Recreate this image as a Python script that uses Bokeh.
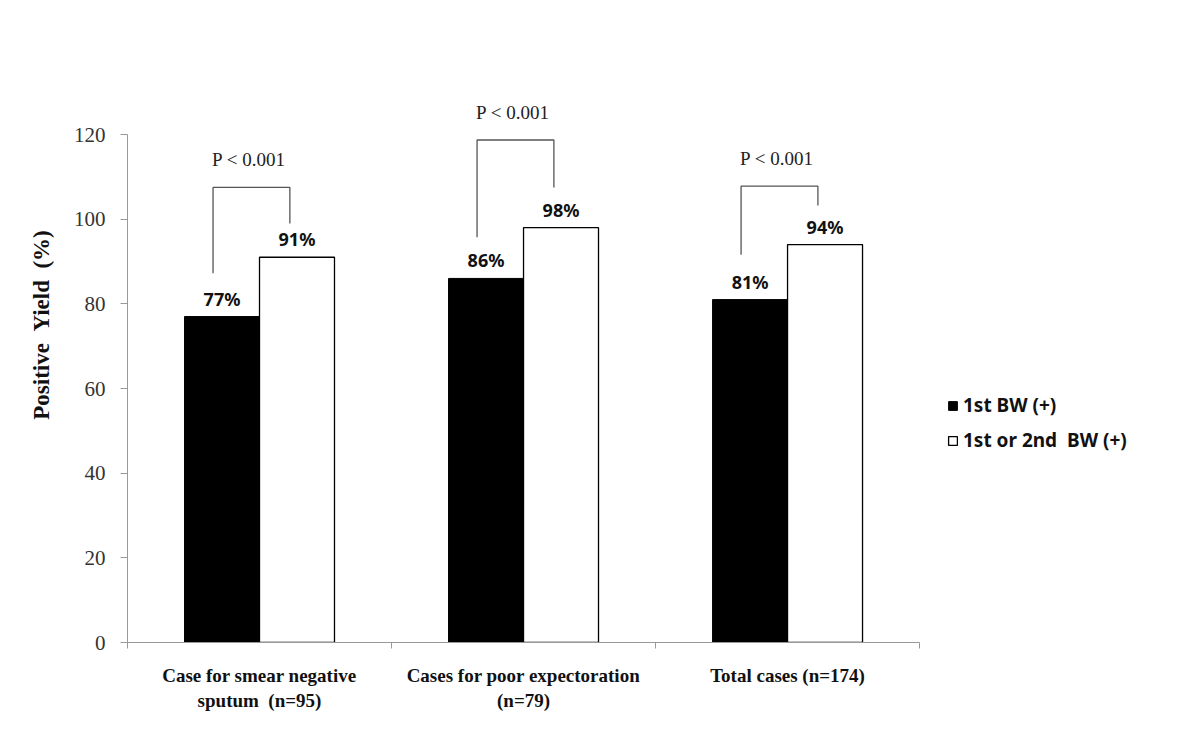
from bokeh.plotting import figure
from bokeh.models import (ColumnDataSource, FixedTicker, LabelSet, Legend,
                          LegendItem, Range1d)
from bokeh.core.properties import value
from bokeh.embed import file_html
from bokeh.resources import INLINE

NB = "\u00a0"  # non-breaking space, keeps the wide gaps of the original

# ---- data ----
categories = ["Case for smear negative\nsputum " + NB + "(n=95)",
              "Cases for poor expectoration\n(n=79)",
              "Total cases (n=174)"]
series_names = ["1st BW (+)", "1st or 2nd " + NB + "BW (+)"]
first_bw = [77, 86, 81]
first_or_second_bw = [91, 98, 94]
p_values = ["P < 0.001", "P < 0.001", "P < 0.001"]
y_ticks = [0, 20, 40, 60, 80, 100, 120]
y_title = "Positive " + NB + "Yield " + NB + "(%)"
# bracket geometry (values in y units)
bracket_top = [107.5, 118.7, 107.8]
bracket_left_bottom = [87.2, 95.7, 91.6]
bracket_right_bottom = [99.0, 107.5, 103.2]

# ---- layout ----
W, H = 1184, 729
bar_w = 0.284
idx = list(range(len(categories)))
x_black = [i + 0.5 - bar_w / 2 for i in idx]
x_white = [i + 0.5 + bar_w / 2 for i in idx]

p = figure(width=W, height=H, output_backend="svg", toolbar_location=None,
           x_range=Range1d(0, 3.977), y_range=Range1d(0, 150),
           min_border_left=127, min_border_right=7, min_border_top=7,
           min_border_bottom=87)
p.outline_line_color = None
p.xgrid.grid_line_color = None
p.ygrid.grid_line_color = None
p.background_fill_color = "white"
p.border_fill_color = "white"

src_b = ColumnDataSource(dict(x=x_black, top=first_bw,
                              txt=[f"{v}%" for v in first_bw]))
src_w = ColumnDataSource(dict(x=x_white, top=first_or_second_bw,
                              txt=[f"{v}%" for v in first_or_second_bw]))
rb = p.vbar(x="x", top="top", width=bar_w, bottom=0, source=src_b,
            fill_color="black", line_color="black", line_width=1)
rw = p.vbar(x="x", top="top", width=bar_w, bottom=0, source=src_w,
            fill_color="white", line_color="black", line_width=1.3)

for src in (src_b, src_w):
    p.add_layout(LabelSet(x="x", y="top", text="txt", source=src,
                          text_align="center", text_baseline="alphabetic",
                          y_offset=11, text_font=value("Noto Sans"),
                          text_font_style="bold", text_font_size="18px",
                          text_color="#111111"))

# significance brackets
lo, ro = -0.176, 0.115
xs, ys = [], []
for i in idx:
    c = i + 0.5
    xs.append([c + lo, c + lo, c + ro, c + ro])
    ys.append([bracket_left_bottom[i], bracket_top[i], bracket_top[i],
               bracket_right_bottom[i]])
p.multi_line(xs=xs, ys=ys, line_color="#555555", line_width=1.3)
ptxt = ColumnDataSource(dict(x=[i + 0.5 + (lo + ro) / 2 - 0.01 for i in idx],
                             y=[t + 6.5 for t in bracket_top], txt=p_values))
p.text(x="x", y="y", text="txt", source=ptxt, text_align="center",
       text_baseline="middle", text_font=value("Liberation Serif"),
       text_font_size="19px", text_color="#222222")

# y axis
ya = p.yaxis[0]
ya.ticker = FixedTicker(ticks=y_ticks)
ya.bounds = (0, 120)
ya.axis_line_color = "#999999"
ya.major_tick_line_color = "#999999"
ya.major_tick_out = 7
ya.major_tick_in = 0
ya.minor_tick_line_color = None
ya.major_label_text_font = "Liberation Serif"
ya.major_label_text_font_size = "21px"
ya.major_label_text_color = "#333333"
ya.major_label_standoff = 15
ya.axis_label = y_title
ya.axis_label_text_font = "Liberation Serif"
ya.axis_label_text_font_style = "bold"
ya.axis_label_text_font_size = "23px"
ya.axis_label_text_color = "#111111"
ya.axis_label_standoff = 17

# x axis
xa = p.xaxis[0]
xa.ticker = FixedTicker(ticks=[i + 0.5 for i in idx],
                        minor_ticks=[0] + [i + 1 for i in idx])
xa.bounds = (0, 3)
xa.axis_line_color = "#999999"
xa.major_tick_line_color = None
xa.major_tick_out = 0
xa.major_tick_in = 0
xa.minor_tick_line_color = "#999999"
xa.minor_tick_out = 6
xa.minor_tick_in = 0
xa.major_label_overrides = {i + 0.5: categories[i] for i in idx}
xa.major_label_text_font = "Liberation Serif"
xa.major_label_text_font_style = "bold"
xa.major_label_text_font_size = "19px"
xa.major_label_text_color = "#111111"
xa.major_label_standoff = 16

legend = Legend(items=[LegendItem(label=series_names[0], renderers=[rb]),
                       LegendItem(label=series_names[1], renderers=[rw])],
                location=(820, 189), orientation="vertical")
legend.border_line_color = None
legend.background_fill_alpha = 0
legend.padding = 0
legend.margin = 0
legend.spacing = 9
legend.glyph_width = 11
legend.glyph_height = 11
legend.label_standoff = 5
legend.label_height = 20
legend.label_text_font = "Noto Sans"
legend.label_text_font_style = "bold"
legend.label_text_font_size = "19px"
legend.label_text_color = "#111111"
p.add_layout(legend)

open("out.html", "w").write(file_html(p, INLINE))
